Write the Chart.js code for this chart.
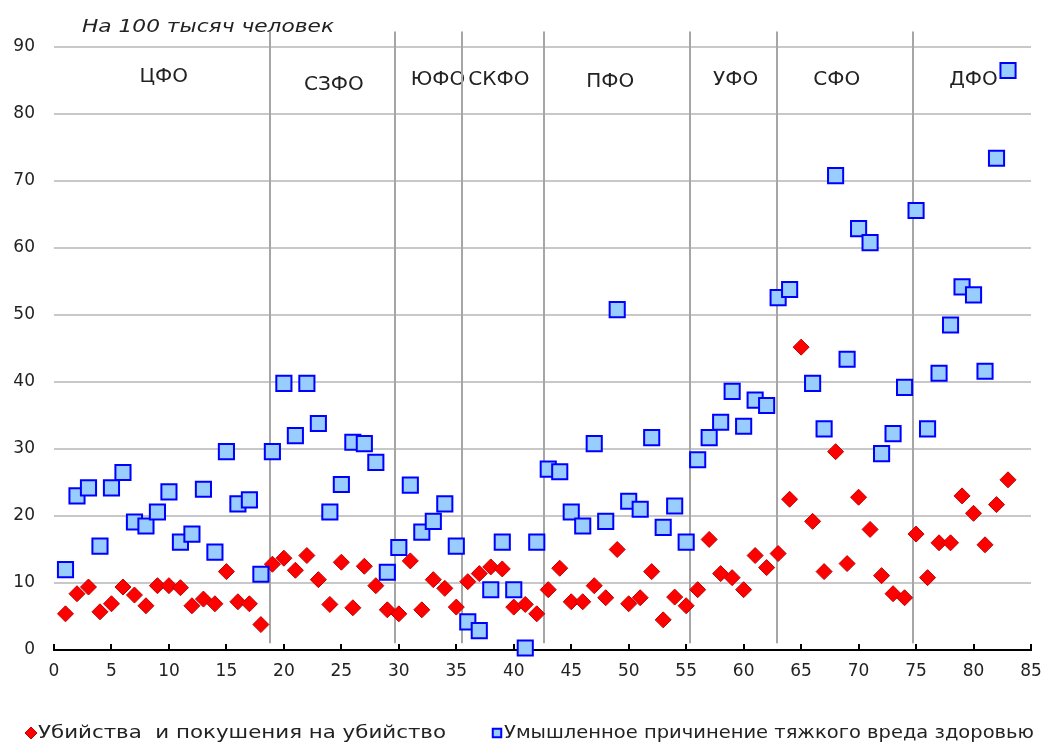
<!DOCTYPE html>
<html>
<head>
<meta charset="utf-8">
<script src="https://cdn.jsdelivr.net/npm/chart.js@4.4.0/dist/chart.umd.min.js"></script>
<style>
  html, body { margin: 0; background: #fff; }
  #wrap { width: 1045px; height: 742px; }
</style>
</head>
<body>
<div id="wrap"><canvas id="myChart"></canvas></div>
<script>
// regions numbered along the x axis
const regions = [1, 2, 3, 4, 5, 6, 7, 8, 9, 10, 11, 12, 13, 14, 15, 16, 17, 18, 19, 20,
  21, 22, 23, 24, 25, 26, 27, 28, 29, 30, 31, 32, 33, 34, 35, 36, 37, 38, 39, 40,
  41, 42, 43, 44, 45, 46, 47, 48, 49, 50, 51, 52, 53, 54, 55, 56, 57, 58, 59, 60,
  61, 62, 63, 64, 65, 66, 67, 68, 69, 70, 71, 72, 73, 74, 75, 76, 77, 78, 79, 80,
  81, 82, 83];

// murders and attempted murders, per 100k
const murders = [5.4, 8.4, 9.4, 5.7, 6.9, 9.4, 8.2, 6.6, 9.6, 9.6,
  9.3, 6.6, 7.6, 6.9, 11.7, 7.2, 6.9, 3.8, 12.8, 13.7,
  11.9, 14.1, 10.5, 6.8, 13.1, 6.3, 12.5, 9.6, 6.0, 5.4,
  13.3, 6.0, 10.5, 9.2, 6.4, 10.2, 11.4, 12.4, 12.1, 6.4,
  6.8, 5.4, 9.0, 12.2, 7.2, 7.2, 9.6, 7.8, 15.0, 6.9,
  7.8, 11.7, 4.5, 7.9, 6.6, 9.0, 16.5, 11.4, 10.8, 9.0,
  14.1, 12.3, 14.4, 22.5, 45.2, 19.2, 11.7, 29.6, 12.9, 22.8,
  18.0, 11.1, 8.4, 7.8, 17.3, 10.8, 16.0, 16.0, 23.0, 20.4,
  15.7, 21.7, 25.4];

// grievous bodily harm, per 100k (region 65 is off the scale)
const injuries = [12.0, 23.0, 24.2, 15.5, 24.2, 26.5, 19.1, 18.5, 20.6, 23.6,
  16.1, 17.3, 24.0, 14.6, 29.6, 21.8, 22.4, 11.3, 29.6, 39.8,
  32.0, 39.8, 33.8, 20.6, 24.7, 31.0, 30.8, 28.0, 11.6, 15.3,
  24.6, 17.6, 19.2, 21.8, 15.5, 4.2, 2.9, 9.0, 16.1, 9.0,
  0.3, 16.1, 27.0, 26.6, 20.6, 18.5, 30.8, 19.2, 50.8, 22.2,
  21.0, 31.7, 18.3, 21.5, 16.1, 28.4, 31.7, 34.0, 38.6, 33.4,
  37.3, 36.5, 52.6, 53.8, null, 39.8, 33.0, 70.8, 43.4, 62.9,
  60.8, 29.3, 32.3, 39.2, 65.6, 33.0, 41.3, 48.5, 54.2, 53.0,
  41.6, 73.4, 86.5];

const xTicks = [0, 5, 10, 15, 20, 25, 30, 35, 40, 45, 50, 55, 60, 65, 70, 75, 80, 85];
const yTicks = [0, 10, 20, 30, 40, 50, 60, 70, 80, 90];

const districts = ['ЦФО', 'СЗФО', 'ЮФО', 'СКФО', 'ПФО', 'УФО', 'СФО', 'ДФО'];
const districtBorders = [18.75, 29.7, 35.5, 42.6, 55.35, 62.9, 74.75];

const font = '"DejaVu Sans", sans-serif';
const textColor = '#222';

// where the district names sit (data units)
const labelX = [9.55, 24.35, 33.4, 38.7, 48.4, 59.3, 68.1, 80.0];
const labelY = [85.6, 84.4, 85.1, 85.1, 84.8, 85.1, 85.1, 85.1];

// text squeezed/stretched to a given width
function fitText(ctx, text, x, y, width) {
  const w = ctx.measureText(text).width;
  ctx.save();
  ctx.translate(x, y);
  ctx.scale(width / w, 1);
  ctx.fillText(text, 0, 0);
  ctx.restore();
}

const districtPlugin = {
  id: 'districts',
  beforeDatasetsDraw(chart) {
    const {ctx, scales: {x, y}} = chart;
    ctx.save();

    // district names on white boxes
    ctx.font = '20px ' + font;
    ctx.textAlign = 'center';
    ctx.textBaseline = 'middle';
    districts.forEach((name, i) => {
      const px = x.getPixelForValue(labelX[i]);
      const py = y.getPixelForValue(labelY[i]);
      const w = ctx.measureText(name).width;
      ctx.fillStyle = '#fff';
      ctx.fillRect(px - w / 2 - 1, py - 11, w + 2, 22);
      ctx.fillStyle = textColor;
      ctx.fillText(name, px, py);
    });

    // district borders
    ctx.strokeStyle = '#a6a6a6';
    ctx.lineWidth = 2;
    districtBorders.forEach(b => {
      const px = Math.round(x.getPixelForValue(b));
      ctx.beginPath();
      ctx.moveTo(px, y.getPixelForValue(92.3));
      ctx.lineTo(px, y.getPixelForValue(1));
      ctx.stroke();
    });

    // tick marks pointing up from the axis
    ctx.strokeStyle = '#000';
    ctx.lineWidth = 2;
    x.ticks.forEach(t => {
      const px = Math.round(x.getPixelForValue(t.value));
      ctx.beginPath();
      ctx.moveTo(px, y.bottom);
      ctx.lineTo(px, y.bottom - 6);
      ctx.stroke();
    });

    // caption
    ctx.font = 'italic 18px ' + font;
    ctx.textAlign = 'left';
    ctx.textBaseline = 'middle';
    ctx.fillStyle = textColor;
    fitText(ctx, 'На 100 тысяч человек', x.left + 28, y.top - 20, 252);
    ctx.restore();
  },
  afterDraw(chart) {
    // legend row under the axis
    const {ctx} = chart;
    const widths = [408, 530];
    const starts = [27, 493];
    const ly = chart.chartArea.bottom + 83;
    ctx.save();
    ctx.font = '18px ' + font;
    ctx.textAlign = 'left';
    ctx.textBaseline = 'middle';
    chart.data.datasets.forEach((ds, i) => {
      ctx.fillStyle = ds.backgroundColor;
      ctx.strokeStyle = ds.borderColor;
      ctx.lineWidth = ds.borderWidth;
      Chart.helpers.drawPoint(ctx, {pointStyle: ds.pointStyle, radius: 6, borderWidth: ds.borderWidth, rotation: 0},
        starts[i] + 4, ly);
      ctx.fillStyle = textColor;
      fitText(ctx, ds.label, starts[i] + 11, ly, widths[i]);
    });
    ctx.restore();
  }
};

const ctx = document.getElementById('myChart').getContext('2d');
const myChart = new Chart(ctx, {
  type: 'scatter',
  data: {
    datasets: [{
      label: 'Убийства  и покушения на убийство',
      data: regions.map((r, i) => ({x: r, y: murders[i]})),
      pointStyle: 'rectRot',
      pointRadius: 8,
      pointHoverRadius: 8,
      backgroundColor: '#ff0000',
      borderColor: '#c00000',
      borderWidth: 1,
      clip: false,
      order: 1
    }, {
      label: 'Умышленное причинение тяжкого вреда здоровью',
      data: regions.map((r, i) => ({x: r, y: injuries[i]})),
      pointStyle: 'rect',
      pointRadius: 10.7,
      pointHoverRadius: 10.7,
      backgroundColor: '#99ccff',
      borderColor: '#0000ff',
      borderWidth: 2,
      clip: false,
      order: 0
    }]
  },
  options: {
    responsive: true,
    maintainAspectRatio: false,
    animation: false,
    layout: { padding: { top: 47, right: 14, bottom: 0, left: 0 } },
    scales: {
      x: {
        type: 'linear',
        min: 0,
        max: 85,
        afterBuildTicks: s => { s.ticks = xTicks.map(v => ({value: v})); },
        afterFit: s => { s.height = 92; s.paddingLeft = 0; s.paddingRight = 0; },
        grid: { display: false, drawTicks: false },
        border: { display: true, color: '#000', width: 2 },
        ticks: { color: textColor, font: { family: font, size: 17 }, padding: 11 }
      },
      y: {
        min: 0,
        max: 90,
        afterBuildTicks: s => { s.ticks = yTicks.map(v => ({value: v})); },
        afterFit: s => { s.width = 54; },
        grid: { color: '#c8c8c8', lineWidth: 2, drawTicks: false },
        border: { display: false },
        ticks: { color: textColor, font: { family: font, size: 17 }, padding: 19 }
      }
    },
    plugins: {
      tooltip: { enabled: false },
      legend: { display: false }
    }
  },
  plugins: [districtPlugin]
});
</script>
</body>
</html>
